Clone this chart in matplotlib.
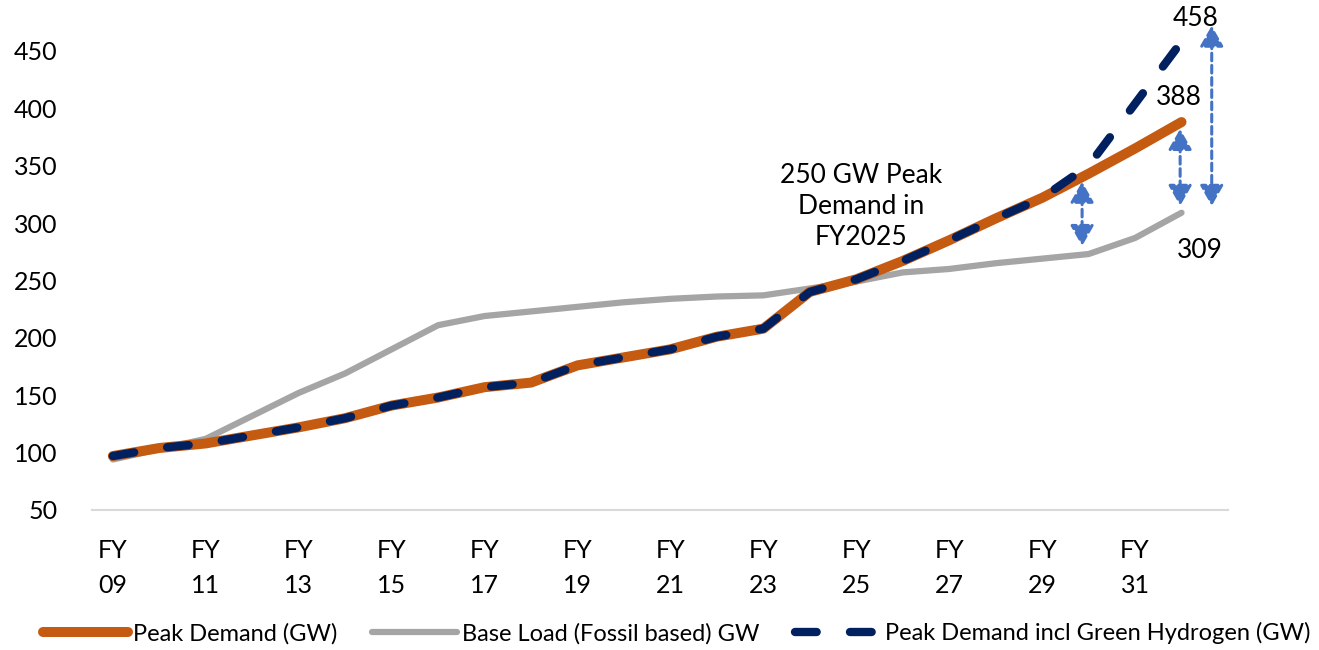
import matplotlib.pyplot as plt
from matplotlib.lines import Line2D

plt.rcParams.update({
    'font.family': ['Lato', 'DejaVu Sans'],
    'font.size': 18,
})

years = [f'FY{y:02d}' for y in range(9, 33)]
peak = [97, 104, 108, 115, 122, 130, 141, 148, 157, 161, 176, 183,
        190, 201, 208, 240, 251, 267, 285, 304, 322, 343, 365, 388]
base = [94, 103, 112, 132, 152, 169, 190, 211, 219, 223, 227, 231,
        234, 236, 237, 243, 249, 257, 260, 265, 269, 273, 287, 309]
peak_h2 = [97, 104, 108, 115, 122, 130, 141, 148, 157, 161, 176, 183,
           190, 201, 208, 240, 251, 267, 285, 304, 322, 350, 404, 458]

ORANGE = '#C55A11'
GREY = '#A5A5A5'
NAVY = '#002060'
BLUE = '#4472C4'

fig = plt.figure(figsize=(13.19, 6.5), dpi=100)
ax = fig.add_axes([0.0697, 0.2154, 0.8613, 0.7416])

x = list(range(len(years)))
ax.plot(x, peak, color=ORANGE, lw=7.2, solid_capstyle='round', zorder=3,
        label='Peak Demand (GW)')
ax.plot(x, base, color=GREY, lw=4.5, solid_capstyle='round', zorder=2,
        label='Base Load (Fossil based) GW')
ax.plot(x, peak_h2, color=NAVY, lw=6, dashes=(2.6, 4.0), dash_capstyle='round',
        zorder=4, clip_on=False, label='Peak Demand incl Green Hydrogen (GW)')

# gap arrows
def gap_arrow(xp, y0, y1):
    ax.annotate('', xy=(xp, y0), xytext=(xp, y1), zorder=5, annotation_clip=False,
                arrowprops=dict(arrowstyle='<|-|>,head_length=0.7,head_width=0.4',
                                color=BLUE, lw=2.2, linestyle=(0, (2.5, 1.5)),
                                shrinkA=0, shrinkB=0))

gap_arrow(20.86, 280, 336)
gap_arrow(22.97, 315, 382)
gap_arrow(23.65, 315, 472)

ax.text(23.3, 478, '458', ha='center', va='center', fontsize=19)
ax.text(22.95, 409, '388', ha='center', va='center', fontsize=19)
ax.text(23.4, 276, '309', ha='center', va='center', fontsize=19)
ax.text(16.1, 314, '250 GW Peak\nDemand in\nFY2025', ha='center', va='center',
        fontsize=19, linespacing=1.3)

ax.set_xlim(-0.45, 24.0)
ax.set_ylim(50, 470)
ax.set_yticks(range(50, 451, 50))
ax.set_xticks(x[::2])
ax.set_xticklabels([f'FY\n{y[2:]}' for y in years[::2]], linespacing=1.6)
ax.tick_params(axis='both', length=0, labelsize=18)
ax.tick_params(axis='y', pad=25)
ax.tick_params(axis='x', pad=21)

for s in ['top', 'right', 'left']:
    ax.spines[s].set_visible(False)
ax.spines['bottom'].set_color('#D9D9D9')
ax.spines['bottom'].set_linewidth(1.5)

handles = [
    Line2D([0], [0], color=ORANGE, lw=7.2, solid_capstyle='round'),
    Line2D([0], [0], color=GREY, lw=4.5, solid_capstyle='round'),
    Line2D([0], [0], color=NAVY, lw=6, dashes=(2.6, 4.0), dash_capstyle='round'),
]
labels = ['Peak Demand (GW)', 'Base Load (Fossil based) GW',
          'Peak Demand incl Green Hydrogen (GW)']
fig.legend(handles, labels, loc='center', bbox_to_anchor=(0.513, 0.026), ncol=3,
           frameon=False, fontsize=17, handlelength=3.6, handletextpad=0.2,
           columnspacing=1.5)

fig.savefig('out.png', dpi=100)
